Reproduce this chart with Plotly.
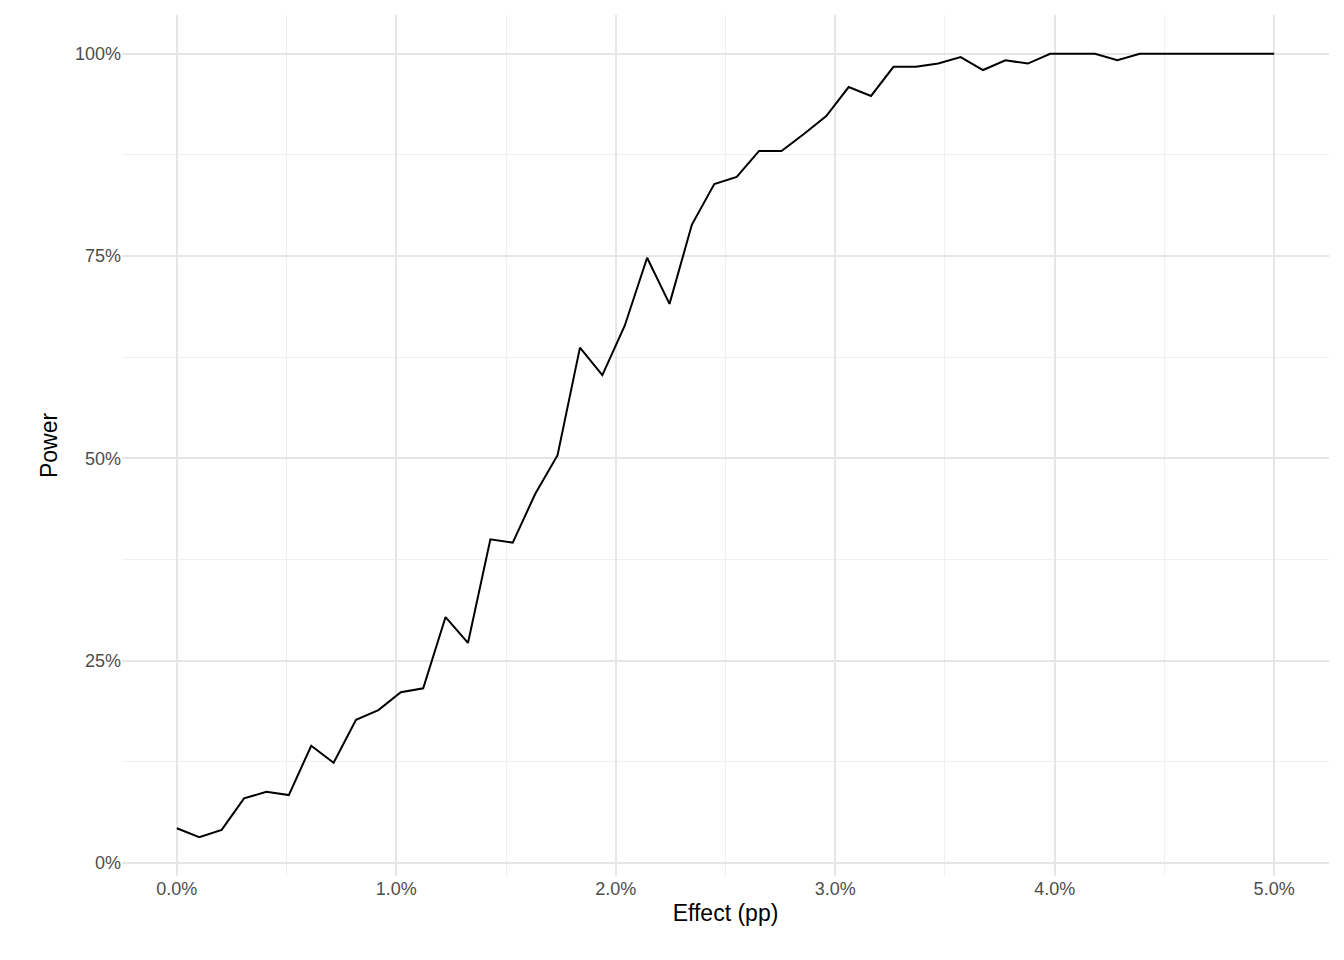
import numpy as np
import plotly.graph_objects as go

n_points = 50
effect = [0.05 * i / (n_points - 1) for i in range(n_points)]
power = [
    4.3, 3.2, 4.1, 8.0, 8.8, 8.4, 14.5, 12.4, 17.7, 18.9,
    21.1, 21.6, 30.4, 27.2, 40.0, 39.6, 45.6, 50.4, 63.7, 60.3,
    66.4, 74.8, 69.1, 78.9, 83.9, 84.8, 88.0, 88.0, 90.1, 92.3,
    95.9, 94.8, 98.4, 98.4, 98.8, 99.6, 98.0, 99.2, 98.8, 100,
    100, 100, 99.2, 100, 100, 100, 100, 100, 100, 100,
]
power = [p / 100 for p in power]

x_ticks = [0, 0.01, 0.02, 0.03, 0.04, 0.05]
x_labels = ["0.0%", "1.0%", "2.0%", "3.0%", "4.0%", "5.0%"]
y_ticks = [0, 0.25, 0.5, 0.75, 1.0]
y_labels = ["0%", "25%", "50%", "75%", "100%"]

fig = go.Figure(go.Scatter(x=effect, y=power, mode="lines",
                           line=dict(color="black", width=2)))

grid = dict(showgrid=True, gridcolor="#e6e6e6", gridwidth=2, zeroline=False,
            showline=False, ticks="", tickfont=dict(family="Liberation Sans", size=18, color="#4d4d4d"),
            minor=dict(showgrid=True, gridcolor="#f0f0f0", gridwidth=1))
fig.update_xaxes(range=[-0.0025, 0.0525], tickvals=x_ticks, ticktext=x_labels,
                 title=dict(text="Effect (pp)", font=dict(size=23, color="black"), standoff=6),
                 **grid)
fig.update_yaxes(range=[-0.016, 1.048], tickvals=y_ticks, ticktext=y_labels,
                 title=dict(text="Power", font=dict(size=23, color="black"), standoff=10),
                 **grid)
fig.update_xaxes(minor=dict(tickvals=[0.005, 0.015, 0.025, 0.035, 0.045]))
fig.update_yaxes(minor=dict(tickvals=[0.125, 0.375, 0.625, 0.875]))
fig.update_layout(width=1344, height=960, plot_bgcolor="white", paper_bgcolor="white",
                  margin=dict(l=114, r=23, t=7, b=92), showlegend=False,
                  font=dict(family="Liberation Sans"))
fig.write_html("out.html")
